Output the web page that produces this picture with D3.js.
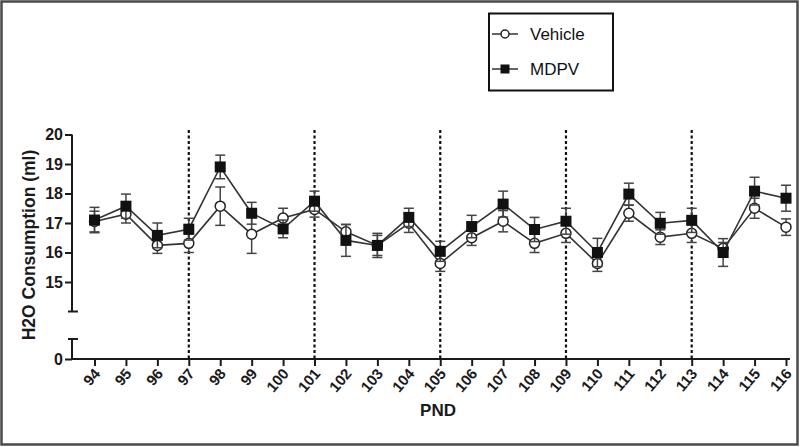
<!DOCTYPE html>
<html><head><meta charset="utf-8">
<script src="https://cdn.jsdelivr.net/npm/d3@7"></script>
<style>body{margin:0;background:#fff}svg{display:block}text{font-family:"Liberation Sans",Arial,sans-serif}</style>
</head><body><svg id="c" width="800" height="447"></svg>
<script>
const pnd = [94,95,96,97,98,99,100,101,102,103,104,105,106,107,108,109,110,111,112,113,114,115,116];
const vehicleMean = [17.05,17.3,16.24,16.31,17.57,16.62,17.17,17.46,16.7,16.24,16.99,15.63,16.5,17.06,16.31,16.65,15.63,17.33,16.52,16.65,16.14,17.5,16.86];
const vehicleSem  = [0.35,0.3,0.27,0.31,0.65,0.65,0.33,0.26,0.25,0.34,0.31,0.27,0.26,0.36,0.31,0.31,0.27,0.27,0.25,0.31,0.2,0.34,0.28];
const mdpvMean = [17.1,17.57,16.58,16.79,18.9,17.33,16.8,17.74,16.41,16.24,17.19,16.04,16.88,17.64,16.78,17.06,16.0,17.98,16.99,17.09,16.0,18.08,17.84];
const mdpvSem  = [0.43,0.41,0.42,0.37,0.4,0.37,0.3,0.34,0.54,0.41,0.31,0.34,0.38,0.44,0.41,0.44,0.48,0.37,0.37,0.41,0.47,0.47,0.44];
const yTicksUpper = [15,16,17,18,19,20];
const yTicksLower = [0];
const dashedDays = [97,101,105,109,113];
const seriesNames = ["Vehicle","MDPV"];

const svg = d3.select("#c");
// frame
svg.append("rect").attr("x",1.5).attr("y",1.5).attr("width",796).attr("height",443)
  .attr("fill","none").attr("stroke","#4a4a4a").attr("stroke-width",2.5);

const axisX = 72, axisY = 359;
const x = d3.scaleLinear().domain([94,116]).range([94.5,786]);
const yU = d3.scaleLinear().domain([14,20]).range([311.5,134.5]);
const yL = d3.scaleLinear().domain([0,1]).range([359,339]);

const ink = "#1a1a1a";
const fmt = d3.format("d");
// y axis upper
const gU = svg.append("g").attr("transform",`translate(${axisX},0)`)
  .call(d3.axisLeft(yU).tickValues(yTicksUpper).tickFormat(fmt).tickSize(7).tickPadding(2).tickSizeOuter(0));
gU.select(".domain").remove();
svg.append("line").attr("x1",axisX).attr("x2",axisX).attr("y1",yU(20)).attr("y2",yU(14)).attr("stroke",ink).attr("stroke-width",2);
svg.append("line").attr("x1",axisX-4).attr("x2",axisX+6).attr("y1",yU(14)).attr("y2",yU(14)).attr("stroke",ink).attr("stroke-width",2);
// y axis lower
const gL = svg.append("g").attr("transform",`translate(${axisX},0)`)
  .call(d3.axisLeft(yL).tickValues(yTicksLower).tickFormat(fmt).tickSize(7).tickPadding(2).tickSizeOuter(0));
gL.select(".domain").remove();
svg.append("line").attr("x1",axisX).attr("x2",axisX).attr("y1",yL(1)).attr("y2",yL(0)).attr("stroke",ink).attr("stroke-width",2);
svg.append("line").attr("x1",axisX-4).attr("x2",axisX+6).attr("y1",yL(1)).attr("y2",yL(1)).attr("stroke",ink).attr("stroke-width",2);
[gU,gL].forEach(g=>{
  g.selectAll(".tick line").attr("stroke",ink).attr("stroke-width",2);
  g.selectAll(".tick text").attr("fill",ink).attr("font-size",16).attr("font-weight","bold").attr("font-family","Liberation Sans, Arial, sans-serif");
});

// x axis
const gX = svg.append("g").attr("transform",`translate(0,${axisY})`)
  .call(d3.axisBottom(x).tickValues(pnd).tickFormat(fmt).tickSize(7).tickSizeOuter(0));
gX.select(".domain").remove();
svg.append("line").attr("x1",axisX).attr("x2",790).attr("y1",axisY).attr("y2",axisY).attr("stroke",ink).attr("stroke-width",2);
gX.selectAll(".tick line").attr("stroke",ink).attr("stroke-width",2);
gX.selectAll(".tick text").attr("fill",ink).attr("font-size",15).attr("font-weight","bold")
  .attr("font-family","Liberation Sans, Arial, sans-serif")
  .attr("text-anchor","end").attr("dy",0).attr("y",0)
  .attr("transform","translate(6,15) rotate(-50)");

// dashed lines
svg.append("g").selectAll("line").data(dashedDays).join("line")
  .attr("x1",d=>x(d)).attr("x2",d=>x(d)).attr("y1",130).attr("y2",axisY)
  .attr("stroke","#111").attr("stroke-width",2.2).attr("stroke-dasharray","3,2.5");

// axis titles
svg.append("text").attr("x",438).attr("y",416).attr("text-anchor","middle")
  .attr("font-size",17).attr("font-weight","bold").attr("fill",ink).text("PND");
svg.append("text").attr("transform","translate(35,245) rotate(-90)").attr("text-anchor","middle")
  .attr("font-size",17.5).attr("font-weight","bold").attr("fill",ink).text("H2O Consumption (ml)");

// series
const series = [
  {name:seriesNames[0], mean:vehicleMean, sem:vehicleSem, shape:"circle"},
  {name:seriesNames[1], mean:mdpvMean, sem:mdpvSem, shape:"square"}
];
const lineGen = d3.line().x(d=>x(d.x)).y(d=>yU(d.y));
series.forEach(s=>{
  const pts = pnd.map((p,i)=>({x:p,y:s.mean[i],e:s.sem[i]}));
  const g = svg.append("g");
  g.append("path").datum(pts).attr("d",lineGen).attr("fill","none").attr("stroke","#333").attr("stroke-width",1.6);
  const eb = g.selectAll("g.eb").data(pts).join("g").attr("stroke","#444").attr("stroke-width",1.5);
  eb.append("line").attr("x1",d=>x(d.x)).attr("x2",d=>x(d.x)).attr("y1",d=>yU(d.y-d.e)).attr("y2",d=>yU(d.y+d.e));
  eb.append("line").attr("x1",d=>x(d.x)-5).attr("x2",d=>x(d.x)+5).attr("y1",d=>yU(d.y+d.e)).attr("y2",d=>yU(d.y+d.e));
  eb.append("line").attr("x1",d=>x(d.x)-5).attr("x2",d=>x(d.x)+5).attr("y1",d=>yU(d.y-d.e)).attr("y2",d=>yU(d.y-d.e));
  s.pts = pts; s.g = g;
});
series.forEach(s=>{
  if(s.shape==="circle"){
    s.g.selectAll("circle").data(s.pts).join("circle").attr("cx",d=>x(d.x)).attr("cy",d=>yU(d.y)).attr("r",5)
      .attr("fill","#fff").attr("stroke","#222").attr("stroke-width",1.5);
  } else {
    s.g.selectAll("rect.m").data(s.pts).join("rect").attr("class","m").attr("x",d=>x(d.x)-5.5).attr("y",d=>yU(d.y)-5.5)
      .attr("width",11).attr("height",11).attr("fill","#111");
  }
});

// legend
const lg = svg.append("g");
lg.append("rect").attr("x",489).attr("y",13.5).attr("width",124).attr("height",77).attr("fill","#fff").attr("stroke","#111").attr("stroke-width",2);
const ly = [34,69];
series.forEach((s,i)=>{
  lg.append("line").attr("x1",492).attr("x2",518).attr("y1",ly[i]).attr("y2",ly[i]).attr("stroke","#333").attr("stroke-width",1.5);
  if(s.shape==="circle") lg.append("circle").attr("cx",505).attr("cy",ly[i]).attr("r",4).attr("fill","#fff").attr("stroke","#222").attr("stroke-width",1.5);
  else lg.append("rect").attr("x",500.5).attr("y",ly[i]-4.5).attr("width",9).attr("height",9).attr("fill","#111");
  lg.append("text").attr("x",530).attr("y",ly[i]+6).attr("font-size",17).attr("fill","#111").text(s.name);
});
</script></body></html>
